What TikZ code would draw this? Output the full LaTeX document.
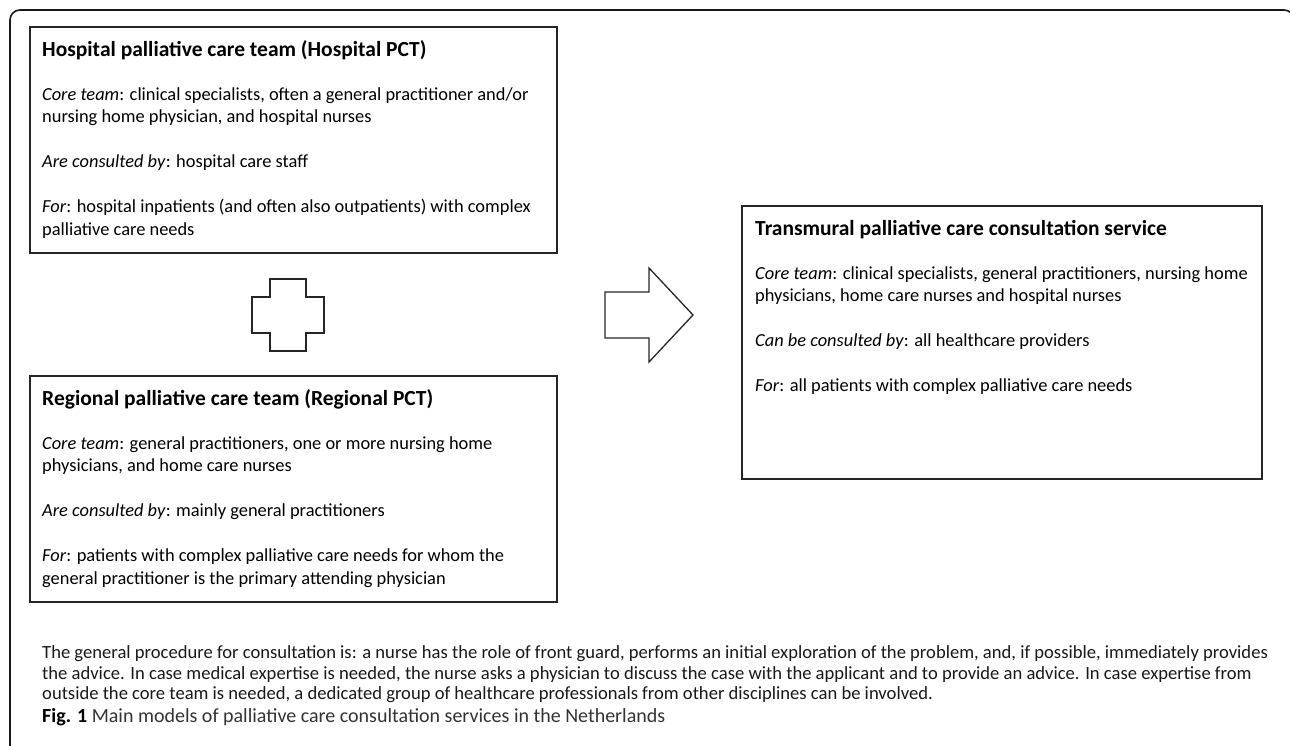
\documentclass[tikz,border=0pt]{standalone}
\usepackage{fontspec}
\setmainfont{Carlito}
\begin{document}
\begin{tikzpicture}[x=1pt,y=-1pt,
  frame/.style={draw=black!90, line width=1.6pt, rounded corners=10pt},
  tbox/.style={draw=black!85, line width=1.3pt},
  shapeline/.style={draw=black!85, line width=1.3pt, line join=miter},
  ttl/.style={anchor=base west, inner sep=0pt, font=\bfseries\fontsize{21.5}{26}\selectfont},
  txt/.style={anchor=base west, inner sep=0pt, font=\fontsize{18.4}{22.5}\selectfont},
  captxt/.style={anchor=base west, inner sep=0pt, text=black!90, font=\fontsize{18.6}{21}\selectfont},
  figtxt/.style={anchor=base west, inner sep=0pt, text=black!80, font=\fontsize{20}{24}\selectfont}
]
\useasboundingbox (0,0) rectangle (1290,745);
% outer frame (only top and left visible)
\draw[frame] (10,746) -- (10,10) -- (1294,10) -- (1294,746);

% boxes
\draw[tbox] (30,27) rectangle (557,253);
\draw[tbox] (30,376) rectangle (557,602);
\draw[tbox] (742,206) rectangle (1262,479);

% hospital PCT
\node[ttl] (h0) at (42,56) {Hospital palliative care team (Hospital PCT)};
\node[txt] (h1) at (42,100) {\textit{Core team}: clinical specialists, often a general practitioner and/or};
\node[txt] (h2) at (42,122.5) {nursing home physician, and hospital nurses};
\node[txt] (h3) at (42,167.5) {\textit{Are consulted by}: hospital care staff};
\node[txt] (h4) at (42,212.5) {\textit{For}: hospital inpatients (and often also outpatients) with complex};
\node[txt] (h5) at (42,235) {palliative care needs};

% regional PCT
\node[ttl] (r0) at (42,405) {Regional palliative care team (Regional PCT)};
\node[txt] (r1) at (42,449) {\textit{Core team}: general practitioners, one or more nursing home};
\node[txt] (r2) at (42,471.5) {physicians, and home care nurses};
\node[txt] (r3) at (42,516.5) {\textit{Are consulted by}: mainly general practitioners};
\node[txt] (r4) at (42,561.5) {\textit{For}: patients with complex palliative care needs for whom the};
\node[txt] (r5) at (42,584) {general practitioner is the primary attending physician};

% transmural
\node[ttl] (t0) at (755,235) {Transmural palliative care consultation service};
\node[txt] (t1) at (755,279) {\textit{Core team}: clinical specialists, general practitioners, nursing home};
\node[txt] (t2) at (755,301.5) {physicians, home care nurses and hospital nurses};
\node[txt] (t3) at (755,346.5) {\textit{Can be consulted by}: all healthcare providers};
\node[txt] (t4) at (755,391.5) {\textit{For}: all patients with complex palliative care needs};

% plus shape
\draw[shapeline] (270,279) -- (306,279) -- (306,297) -- (324,297) -- (324,333)
  -- (306,333) -- (306,351) -- (270,351) -- (270,333) -- (252,333) -- (252,297)
  -- (270,297) -- cycle;

% block arrow
\draw[shapeline] (605,292) -- (649,292) -- (649,268) -- (693,315) -- (649,362)
  -- (649,338) -- (605,338) -- cycle;

% caption
\node[captxt] (c1) at (42,658) {The general procedure for consultation is: a nurse has the role of front guard, performs an initial exploration of the problem, and, if possible, immediately provides};
\node[captxt] (c2) at (42,679) {the advice. In case medical expertise is needed, the nurse asks a physician to discuss the case with the applicant and to provide an advice. In case expertise from};
\node[captxt] (c3) at (42,699) {outside the core team is needed, a dedicated group of healthcare professionals from other disciplines can be involved.};
\node[figtxt] (fig) at (42,722) {\textbf{\color{black}Fig. 1} Main models of palliative care consultation services in the Netherlands};
\end{tikzpicture}
\end{document}
